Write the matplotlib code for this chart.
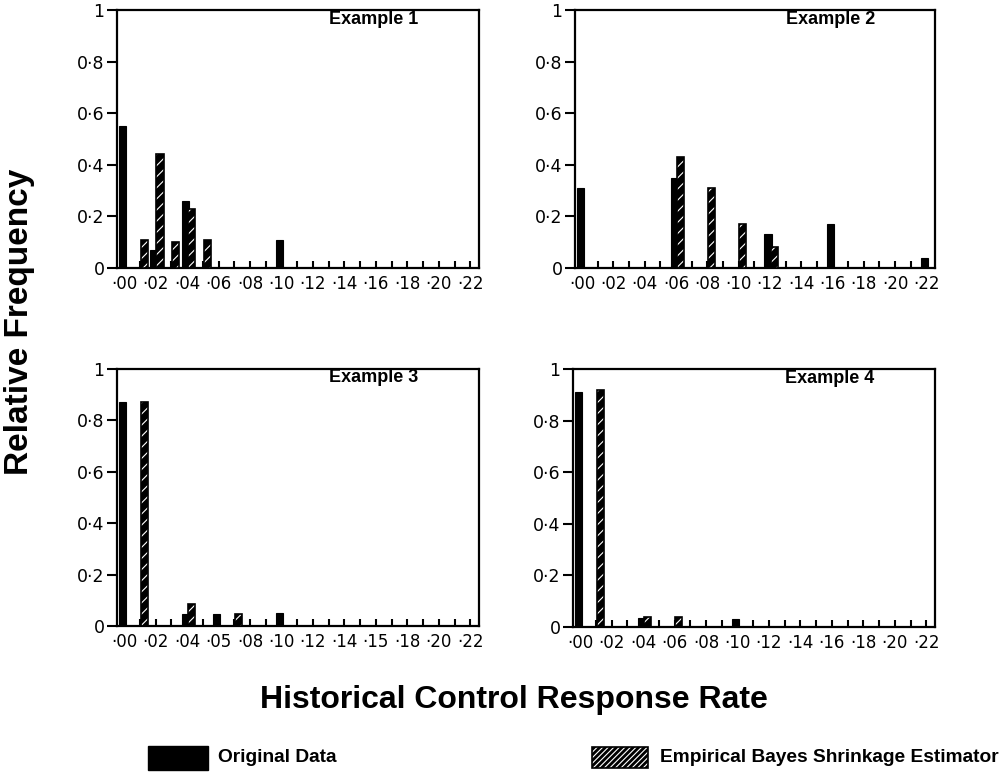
import matplotlib
matplotlib.use("Agg")
import matplotlib.pyplot as plt
from matplotlib.patches import Rectangle
from matplotlib.ticker import MultipleLocator, FixedLocator, FixedFormatter

# ---------------- data ----------------
rate_ticks = [0.00, 0.02, 0.04, 0.06, 0.08, 0.10, 0.12, 0.14, 0.16, 0.18, 0.20, 0.22]
rate_labels = ['·00', '·02', '·04', '·06', '·08', '·10', '·12', '·14', '·16', '·18', '·20', '·22']
rate_labels_ex3 = ['·00', '·02', '·04', '·05', '·08', '·10', '·12', '·14', '·15', '·18', '·20', '·22']
freq_ticks = [0, 0.2, 0.4, 0.6, 0.8, 1.0]
freq_labels = ['0', '0·2', '0·4', '0·6', '0·8', '1']

ex1_orig_rate = [0.00, 0.02, 0.04, 0.10]
ex1_orig_freq = [0.55, 0.07, 0.26, 0.11]
ex1_eb_rate = [0.01, 0.02, 0.03, 0.04, 0.05]
ex1_eb_freq = [0.11, 0.44, 0.10, 0.23, 0.11]

ex2_orig_rate = [0.00, 0.06, 0.12, 0.16, 0.22]
ex2_orig_freq = [0.31, 0.35, 0.13, 0.17, 0.04]
ex2_eb_rate = [0.06, 0.08, 0.10, 0.12]
ex2_eb_freq = [0.43, 0.31, 0.17, 0.08]

ex3_orig_rate = [0.00, 0.04, 0.06, 0.10]
ex3_orig_freq = [0.87, 0.045, 0.045, 0.05]
ex3_eb_rate = [0.01, 0.04, 0.07]
ex3_eb_freq = [0.87, 0.085, 0.045]

ex4_orig_rate = [0.00, 0.04, 0.10]
ex4_orig_freq = [0.91, 0.035, 0.03]
ex4_eb_rate = [0.01, 0.04, 0.06]
ex4_eb_freq = [0.92, 0.04, 0.04]

titles = ['Example 1', 'Example 2', 'Example 3', 'Example 4']

# ---------------- figure ----------------
W, H = 1004, 778
fig = plt.figure(figsize=(W / 100, H / 100), dpi=100)
plt.rcParams['hatch.linewidth'] = 0.8

TICK_FONT = 'DejaVu Sans'
BOLD_FONT = 'Liberation Sans'

# panel boxes in pixels: left, top, right, bottom
boxes = [(117, 10, 479, 268), (575, 10, 935, 268),
         (117, 369, 479, 626), (573, 369, 935, 627)]

panels = [
    (ex1_orig_rate, ex1_orig_freq, ex1_eb_rate, ex1_eb_freq, rate_labels),
    (ex2_orig_rate, ex2_orig_freq, ex2_eb_rate, ex2_eb_freq, rate_labels),
    (ex3_orig_rate, ex3_orig_freq, ex3_eb_rate, ex3_eb_freq, rate_labels_ex3),
    (ex4_orig_rate, ex4_orig_freq, ex4_eb_rate, ex4_eb_freq, rate_labels),
]

bw = 0.0045
off_o = -0.0012
off_e = 0.0028

for (l, t, r, b), (orx, ory, erx, ery, xl), title in zip(boxes, panels, titles):
    ax = fig.add_axes([l / W, 1 - b / H, (r - l) / W, (b - t) / H])
    ax.bar([x + off_o for x in orx], ory, width=bw, color='black',
           edgecolor='black', linewidth=0.8, zorder=3)
    ax.bar([x + off_e for x in erx], ery, width=bw, facecolor='black',
           edgecolor='white', hatch='///', linewidth=0, zorder=3)
    ax.bar([x + off_e for x in erx], ery, width=bw, fill=False,
           edgecolor='black', linewidth=1.2, zorder=4)
    ax.set_xlim(-0.0045, 0.2255)
    ax.set_ylim(0, 1.0)
    ax.xaxis.set_major_locator(FixedLocator(rate_ticks))
    ax.xaxis.set_major_formatter(FixedFormatter(xl))
    ax.xaxis.set_minor_locator(MultipleLocator(0.01))
    ax.yaxis.set_major_locator(FixedLocator(freq_ticks))
    ax.yaxis.set_major_formatter(FixedFormatter(freq_labels))
    ax.tick_params(axis='x', which='both', direction='in', length=5, width=1.5,
                   pad=5, labelsize=12, top=False)
    ax.tick_params(axis='y', direction='out', length=7, width=1.5, pad=2,
                   labelsize=12.5, right=False)
    for lab in ax.get_xticklabels() + ax.get_yticklabels():
        lab.set_fontfamily(TICK_FONT)
    for s in ax.spines.values():
        s.set_linewidth(1.6)
    ax.text(0.71, 0.965, title, transform=ax.transAxes, ha='center', va='center',
            fontsize=13, fontweight='bold', family=BOLD_FONT)

fig.text(20 / W, 1 - 322 / H, 'Relative Frequency', rotation=90, ha='center',
         va='center', fontsize=24, fontweight='bold', family=BOLD_FONT)
fig.text(514 / W, 1 - 700 / H, 'Historical Control Response Rate', ha='center',
         va='center', fontsize=23, fontweight='bold', family=BOLD_FONT)

# legend
fig.add_artist(Rectangle((148 / W, 1 - 770 / H), 60 / W, 24 / H,
                         transform=fig.transFigure, facecolor='black',
                         edgecolor='black'))
fig.add_artist(Rectangle((592 / W, 1 - 768 / H), 56 / W, 21 / H,
                         transform=fig.transFigure, facecolor='black',
                         edgecolor='white', hatch='//////', linewidth=0))
fig.add_artist(Rectangle((592 / W, 1 - 768 / H), 56 / W, 21 / H,
                         transform=fig.transFigure, fill=False,
                         edgecolor='black', linewidth=1.2))
fig.text(218 / W, 1 - 757 / H, 'Original Data', ha='left', va='center',
         fontsize=13.8, fontweight='bold', family=BOLD_FONT)
fig.text(660 / W, 1 - 757 / H, 'Empirical Bayes Shrinkage Estimator', ha='left',
         va='center', fontsize=13.8, fontweight='bold', family=BOLD_FONT)

fig.savefig('out.png', dpi=100)
